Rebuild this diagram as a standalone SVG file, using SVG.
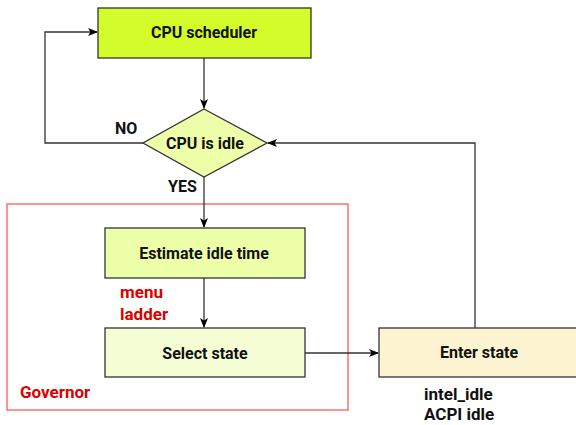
<svg xmlns="http://www.w3.org/2000/svg" width="576" height="425" viewBox="0 0 576 425">
<defs>
<marker id="ah" markerWidth="10" markerHeight="8" refX="9" refY="4" orient="auto" markerUnits="userSpaceOnUse">
<path d="M0,0 L10,4 L0,8 L2.5,4 Z" fill="#000"/>
</marker>
<style>
.box{stroke:#333;stroke-width:1.3}
.t{font-family:Roboto,"Liberation Sans",sans-serif;font-weight:bold;font-size:16px;fill:#111;text-anchor:middle;dominant-baseline:central}
.tl{font-family:Roboto,"Liberation Sans",sans-serif;font-weight:bold;font-size:16px;fill:#111}
.tb{font-family:Roboto,"Liberation Sans",sans-serif;font-weight:bold;font-size:17px;fill:#111}
.red{font-family:Roboto,"Liberation Sans",sans-serif;font-weight:bold;font-size:17px;fill:#dd0000}
.c{fill:none;stroke:#333;stroke-width:1.3}
</style>
</defs>
<rect width="576" height="425" fill="#fff"/>
<g id="governor">
<rect x="7" y="204" width="341" height="206" fill="none" stroke="#ff5a5a" stroke-width="1.3"/>
<text class="red" x="20" y="398">Governor</text>
<text class="red" x="120" y="298">menu</text>
<text class="red" x="120" y="320">ladder</text>
</g>
<g id="connectors">
<path class="c" d="M204,58 V108" marker-end="url(#ah)"/>
<path class="c" d="M143,143 H45 V32 H97" marker-end="url(#ah)"/>
<path class="c" d="M204,177 V227" marker-end="url(#ah)"/>
<path class="c" d="M204,278 V327" marker-end="url(#ah)"/>
<path class="c" d="M305,353 H378" marker-end="url(#ah)"/>
<path class="c" d="M475,328 V143 H268" marker-end="url(#ah)"/>
<text class="tl" x="115" y="134">NO</text>
<text class="tl" x="168" y="192">YES</text>
</g>
<g id="cpu-scheduler">
<rect class="box" x="98" y="8" width="213" height="50" fill="#d4fc2b"/>
<text class="t" x="204" y="32">CPU scheduler</text>
</g>
<g id="cpu-idle">
<path class="box" d="M204,109 L267,143 L204,177 L143,143 Z" fill="#eeffaa"/>
<text class="t" x="205" y="143">CPU is idle</text>
</g>
<g id="estimate">
<rect class="box" x="105" y="228" width="200" height="50" fill="#eeffaa"/>
<text class="t" x="204" y="253">Estimate idle time</text>
</g>
<g id="select">
<rect class="box" x="105" y="328" width="200" height="49" fill="#f4fdd4"/>
<text class="t" x="205" y="353">Select state</text>
</g>
<g id="enter">
<rect class="box" x="379" y="328" width="205" height="49" fill="#fcf3d0"/>
<text class="t" x="479" y="352">Enter state</text>
<text class="tb" x="424" y="400">intel_idle</text>
<text class="tb" x="424" y="420">ACPI idle</text>
</g>
</svg>
